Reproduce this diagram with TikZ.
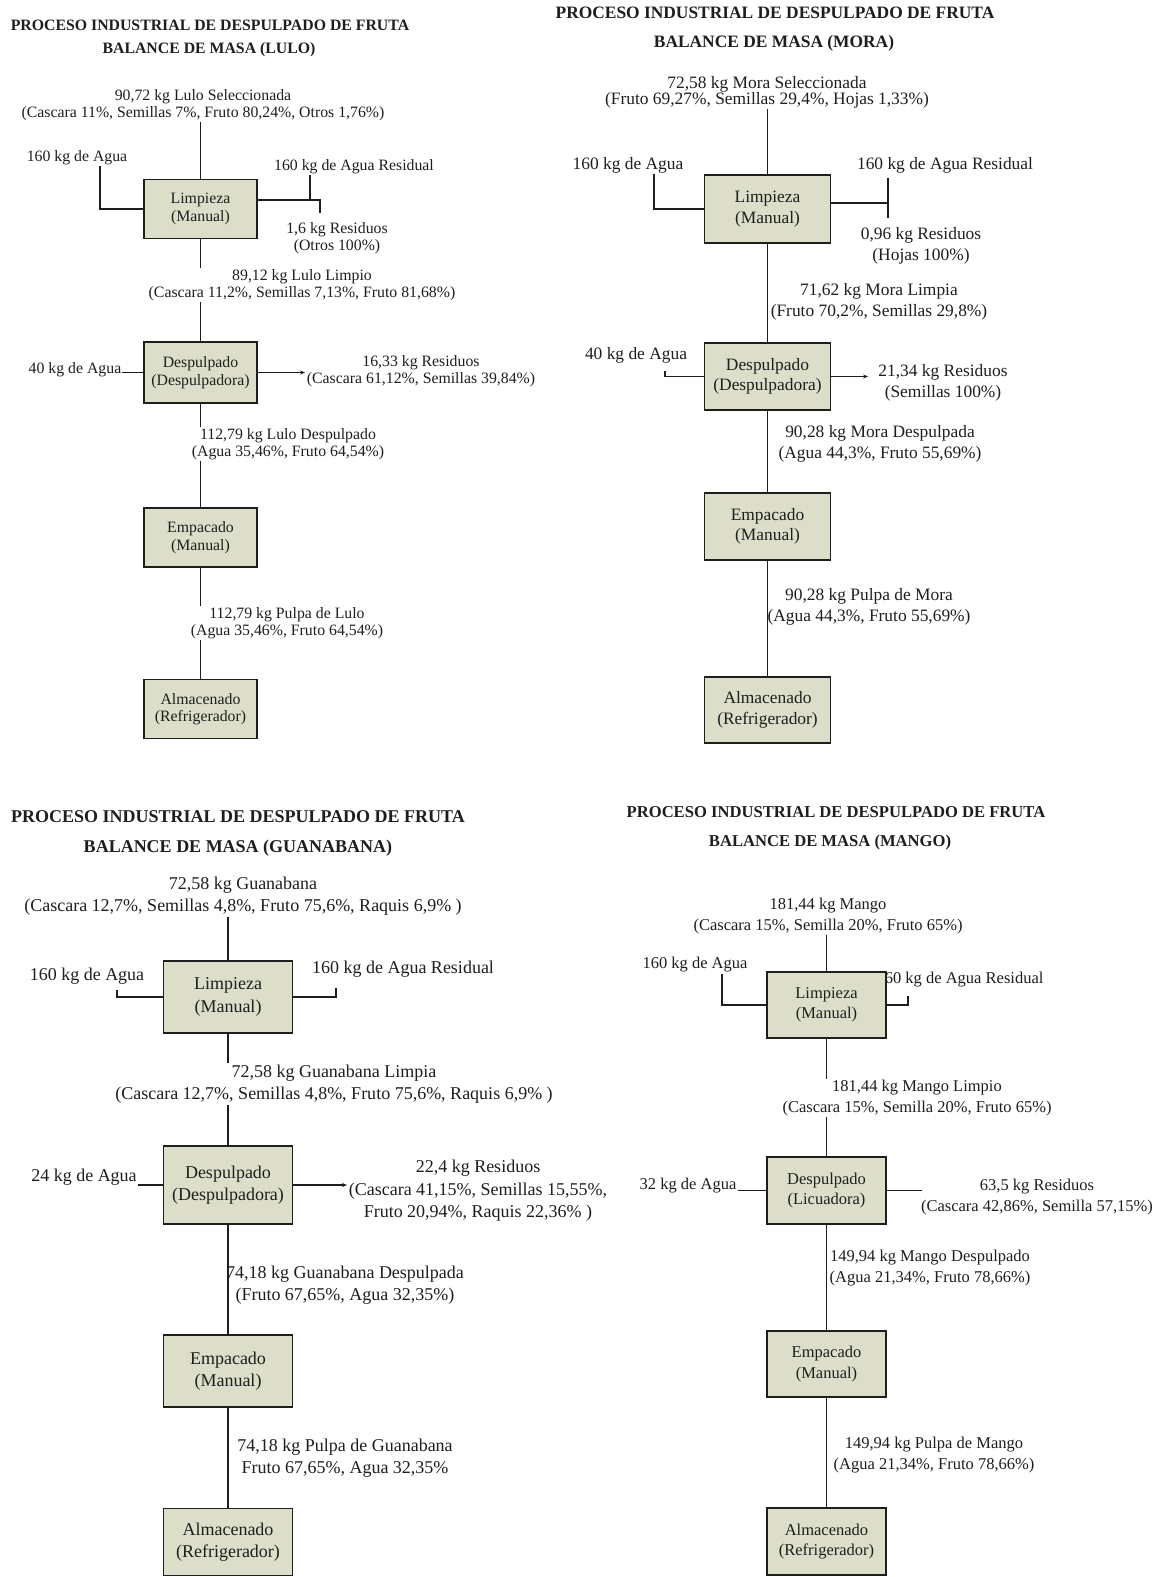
\documentclass[tikz,border=0pt]{standalone}
\usepackage{fontspec}
\setmainfont{Liberation Serif}
\usetikzlibrary{arrows.meta}
\definecolor{ink}{RGB}{30,30,30}
\definecolor{boxfill}{RGB}{221,222,201}

\begin{document}
\begin{tikzpicture}[x=1pt,y=-1pt,
  txt/.style={align=center, inner sep=1pt, text=ink},
  fa/.style={font=\fontsize{15.8}{17.5}\selectfont},
  fb/.style={font=\fontsize{17.4}{20.5}\selectfont},
  fc/.style={font=\fontsize{18}{22.5}\selectfont},
  fd/.style={font=\fontsize{16.5}{20.5}\selectfont},
  ttl/.style={txt, font=\bfseries\fontsize{#1}{#1}\selectfont},
  stage/.style={draw=ink, line width=1.3pt, fill=boxfill, align=center, inner sep=0pt, text=ink},
  wire/.style={draw=ink, line width=1.1pt},
  outflow/.style={wire, -{Stealth[length=5pt,width=4pt]}},
]
\fill[white] (0,0) rectangle (1161,1577);
\useasboundingbox (0,0) rectangle (1161,1577);

% ---------------- LULO ----------------
\node[ttl=15.8] (t1a) at (210,25) {PROCESO INDUSTRIAL DE DESPULPADO DE FRUTA};
\node[ttl=15.8] (t1b) at (209,50) {BALANCE DE MASA (LULO)};
\node[txt, font=\fontsize{15.8}{16.5}\selectfont] (in1) at (203,105) {90,72 kg Lulo Seleccionada\\(Cascara 11\%, Semillas 7\%, Fruto 80,24\%, Otros 1,76\%)};
\node[stage, fa, minimum width=113pt, minimum height=59pt] (L1) at (200.5,209) {Limpieza\\(Manual)};
\node[txt, fa] (w1) at (77,158) {160 kg de Agua};
\node[txt, fa] (r1) at (354,167) {160 kg de Agua Residual};
\node[txt, fa] (x1) at (337,238) {1,6 kg Residuos\\(Otros 100\%)};
\node[txt, fa] (m1) at (302,285) {89,12 kg Lulo Limpio\\(Cascara 11,2\%, Semillas 7,13\%, Fruto 81,68\%)};
\node[stage, fa, minimum width=113pt, minimum height=61pt] (D1) at (200.5,372.5) {Despulpado\\(Despulpadora)};
\node[txt, fa] (w1b) at (75,370) {40 kg de Agua};
\node[txt, fa] (x1b) at (421,371) {16,33 kg Residuos\\(Cascara 61,12\%, Semillas 39,84\%)};
\node[txt, fa] (m1b) at (288,444) {112,79 kg Lulo Despulpado\\(Agua 35,46\%, Fruto 64,54\%)};
\node[stage, fa, minimum width=113pt, minimum height=59pt] (E1) at (200.5,537.5) {Empacado\\(Manual)};
\node[txt, fa] (m1c) at (287,623) {112,79 kg Pulpa de Lulo\\(Agua 35,46\%, Fruto 64,54\%)};
\node[stage, fa, minimum width=113pt, minimum height=59pt] (A1) at (200.5,709) {Almacenado\\(Refrigerador)};

\coordinate (j1) at (310,200);
\coordinate (k1) at (320,213);
\coordinate (o1) at (305,372.5);
\draw[wire] (L1.north |- in1.south) -- (L1.north);
\draw[wire] ([xshift=23pt]w1.south) |- (L1.west);
\draw[wire] ([yshift=9pt]L1.east) -| (k1);
\draw[wire] (j1) -- (j1 |- r1.south);
\draw[wire] (L1.south) -- (L1.south |- m1.north);
\draw[wire] (D1.north |- m1.south) -- (D1.north);
\draw[wire] (D1.west -| w1b.east) -- (D1.west);
\draw[outflow] (D1.east) -- (o1);
\draw[wire] (D1.south) -- (D1.south |- m1b.north);
\draw[wire] (E1.north |- m1b.south) -- (E1.north);
\draw[wire] (E1.south) -- (E1.south |- m1c.north);
\draw[wire] (A1.north |- m1c.south) -- (A1.north);

% ---------------- MORA ----------------
\node[ttl=17.4] (t2a) at (775,13) {PROCESO INDUSTRIAL DE DESPULPADO DE FRUTA};
\node[ttl=17.4] (t2b) at (774,43) {BALANCE DE MASA (MORA)};
\node[txt, font=\fontsize{17.4}{16}\selectfont] (in2) at (767,92) {72,58 kg Mora Seleccionada\\(Fruto 69,27\%, Semillas 29,4\%, Hojas 1,33\%)};
\node[stage, fb, minimum width=126pt, minimum height=68pt] (L2) at (767.5,209) {Limpieza\\(Manual)};
\node[txt, fb] (w2) at (628,165) {160 kg de Agua};
\node[txt, fb] (r2) at (945,165) {160 kg de Agua Residual};
\node[txt, fb] (x2) at (921,246) {0,96 kg Residuos\\(Hojas 100\%)};
\node[txt, fb] (m2) at (879,302) {71,62 kg Mora Limpia\\(Fruto 70,2\%, Semillas 29,8\%)};
\node[stage, fb, minimum width=126pt, minimum height=67pt] (D2) at (767.5,376.5) {Despulpado\\(Despulpadora)};
\node[txt, fb] (w2b) at (636,355) {40 kg de Agua};
\node[txt, fb] (x2b) at (943,383) {21,34 kg Residuos\\(Semillas 100\%)};
\node[txt, fb] (m2b) at (880,444) {90,28 kg Mora Despulpada\\(Agua 44,3\%, Fruto 55,69\%)};
\node[stage, fb, minimum width=126pt, minimum height=67pt] (E2) at (767.5,526.5) {Empacado\\(Manual)};
\node[txt, fb] (m2c) at (869,607) {90,28 kg Pulpa de Mora\\(Agua 44,3\%, Fruto 55,69\%)};
\node[stage, fb, minimum width=126pt, minimum height=66pt] (A2) at (767.5,710) {Almacenado\\(Refrigerador)};

\coordinate (j2) at (888,203);
\coordinate (j2t) at (888,178);
\coordinate (j2b) at (888,218);
\coordinate (s2) at (665,371);
\coordinate (o2) at (868,376.5);
\draw[wire] (L2.north |- in2.south) -- (L2.north);
\draw[wire] ([xshift=26pt]w2.south) |- (L2.west);
\draw[wire] ([yshift=6pt]L2.east) -- (j2);
\draw[wire] (j2t) -- (j2b);
\draw[wire] (L2.south) -- (D2.north);
\draw[wire] (s2) |- (D2.west);
\draw[outflow] (D2.east) -- (o2);
\draw[wire] (D2.south) -- (E2.north);
\draw[wire] (E2.south) -- (A2.north);

% ---------------- GUANABANA ----------------
\node[ttl=18] (t3a) at (238,817) {PROCESO INDUSTRIAL DE DESPULPADO DE FRUTA};
\node[ttl=18] (t3b) at (238,848) {BALANCE DE MASA (GUANABANA)};
\node[txt, fc] (in3) at (243,896) {72,58 kg Guanabana\\(Cascara 12,7\%, Semillas 4,8\%, Fruto 75,6\%, Raquis 6,9\% )};
\node[stage, fc, minimum width=129pt, minimum height=72pt] (L3) at (228,997) {Limpieza\\(Manual)};
\node[txt, fc] (w3) at (87,976) {160 kg de Agua};
\node[txt, fc] (r3) at (403,969) {160 kg de Agua Residual};
\node[txt, fc] (m3) at (334,1084) {72,58 kg Guanabana Limpia\\(Cascara 12,7\%, Semillas 4,8\%, Fruto 75,6\%, Raquis 6,9\% )};
\node[stage, fc, minimum width=129pt, minimum height=78pt] (D3) at (228,1185) {Despulpado\\(Despulpadora)};
\node[txt, fc] (w3b) at (84,1177) {24 kg de Agua};
\node[txt, fc] (x3) at (478,1191) {22,4 kg Residuos\\(Cascara 41,15\%, Semillas 15,55\%,\\Fruto 20,94\%, Raquis 22,36\% )};
\node[txt, fc] (m3b) at (345,1285) {74,18 kg Guanabana Despulpada\\(Fruto 67,65\%, Agua 32,35\%)};
\node[stage, fc, minimum width=129pt, minimum height=72pt] (E3) at (228,1371) {Empacado\\(Manual)};
\node[txt, fc] (m3c) at (345,1458) {74,18 kg Pulpa de Guanabana\\Fruto 67,65\%, Agua 32,35\%};
\node[stage, fc, minimum width=129pt, minimum height=67pt] (A3) at (228,1542) {Almacenado\\(Refrigerador)};

\coordinate (h3) at (117,990);
\coordinate (g3) at (336,988);
\coordinate (o3) at (347,1185);
\draw[wire] (L3.north |- in3.south) -- (L3.north);
\draw[wire] (h3) |- (L3.west);
\draw[wire] (L3.east) -| (g3);
\draw[wire] (L3.south) -- (L3.south |- m3.north);
\draw[wire] (D3.north |- m3.south) -- (D3.north);
\draw[wire] (D3.west -| w3b.east) -- (D3.west);
\draw[outflow] (D3.east) -- (o3);
\draw[wire] (D3.south) -- (E3.north);
\draw[wire] (E3.south) -- (A3.north);

% ---------------- MANGO ----------------
\node[ttl=16.6] (t4a) at (836,812) {PROCESO INDUSTRIAL DE DESPULPADO DE FRUTA};
\node[ttl=16.6] (t4b) at (830,842) {BALANCE DE MASA (MANGO)};
\node[txt, fd] (in4) at (828,916) {181,44 kg Mango\\(Cascara 15\%, Semilla 20\%, Fruto 65\%)};
\node[txt, fd] (r4) at (960,980) {160 kg de Agua Residual};
\node[stage, fd, minimum width=119pt, minimum height=66pt] (L4) at (826.5,1005) {Limpieza\\(Manual)};
\node[txt, fd] (w4) at (695,965) {160 kg de Agua};
\node[txt, fd] (m4) at (917,1098) {181,44 kg Mango Limpio\\(Cascara 15\%, Semilla 20\%, Fruto 65\%)};
\node[stage, fd, minimum width=119pt, minimum height=67pt] (D4) at (826.5,1190.5) {Despulpado\\(Licuadora)};
\node[txt, fd] (w4b) at (688,1186) {32 kg de Agua};
\node[txt, fd] (x4) at (1037,1197) {63,5 kg Residuos\\(Cascara 42,86\%, Semilla 57,15\%)};
\node[txt, fd] (m4b) at (930,1268) {149,94 kg Mango Despulpado\\(Agua 21,34\%, Fruto 78,66\%)};
\node[stage, fd, minimum width=119pt, minimum height=66pt] (E4) at (826.5,1364) {Empacado\\(Manual)};
\node[txt, fd] (m4c) at (934,1455) {149,94 kg Pulpa de Mango\\(Agua 21,34\%, Fruto 78,66\%)};
\node[stage, fd, minimum width=119pt, minimum height=67pt] (A4) at (826.5,1541.5) {Almacenado\\(Refrigerador)};

\coordinate (g4) at (908,996);
\coordinate (o4) at (922,1190.5);
\draw[wire] (L4.north |- in4.south) -- (L4.north);
\draw[wire] ([xshift=27pt]w4.south) |- (L4.west);
\draw[wire] (L4.east) -| (g4);
\draw[wire] (L4.south) -- (L4.south |- m4.north);
\draw[wire] (D4.north |- m4.south) -- (D4.north);
\draw[wire] (D4.west -| w4b.east) -- (D4.west);
\draw[wire] (D4.east) -- (o4);
\draw[wire] (D4.south) -- (E4.north);
\draw[wire] (E4.south) -- (A4.north);
\end{tikzpicture}
\end{document}
